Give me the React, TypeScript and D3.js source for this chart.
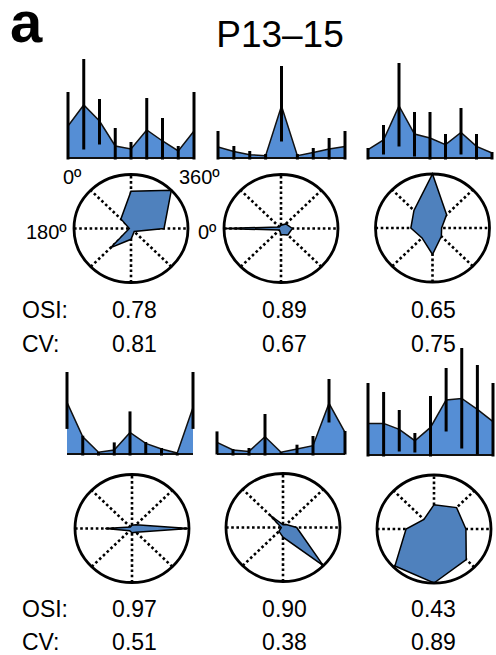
import React from "react";
import * as d3 from "d3";

const angles = [0, 45, 90, 135, 180, 225, 270, 315, 360];

// tuning curves: mean and error-bar top/bottom (response units)
const mean1 = [32, 53, 37, 12, 9, 28, 17, 7, 27];
const hi1 = [66, 99, 59, 30, 16, 60, 40, 12, 66];
const lo1 = [0, 10, 15, 0, 0, 0, 0, 0, 0];

const mean2 = [11, 6.6, 3.3, 2.3, 52, 2.3, 5.6, 9, 11.6];
const hi2 = [27, 12, 7, 4, 92, 4, 10, 20, 27];
const lo2 = [0, 0, 0, 0, 18, 0, 0, 0, 0];

const mean3 = [8.3, 18, 52, 24, 20, 13.3, 25.6, 11.6, 5];
const hi3 = [10, 33, 95, 46, 46, 24, 50, 24, 6];
const lo3 = [0, 5, 13, 3, 0, 0, 5, 0, 0];

const mean4 = [51.6, 17.3, 1.7, 4, 21.6, 10.6, 5, 1, 46.6];
const hi4 = [82, 18.3, 2, 11.6, 42.6, 12, 6, 1, 82];
const lo4 = [26.6, 0, 0, 0, 0, 1, 0, 0, 26.6];

const mean5 = [11.6, 4, 2.6, 17.3, 1.7, 5, 8.3, 50.6, 21.6];
const hi5 = [22.6, 5, 6, 40, 1.7, 9.3, 18, 75, 23];
const lo5 = [1, 0, 0, 0, 1.7, 1, 0, 33, 1];

const mean6 = [31.6, 31.6, 25.6, 14.3, 27.6, 55, 56.6, 45.6, 33.3];
const hi6 = [72, 63, 45, 22, 59, 87, 107, 90, 72];
const lo6 = [0, 0, 5, 4, 0, 25, 8, 2, 0];

// polar plots: normalized response at 0..315 deg
const polar1 = [0.58, 1.0, 0.69, 0.25, 0.03, 0.5, 0.2, 0.08];
const polar2 = [0.2, 0.12, 0.06, 0.04, 1.0, 0.04, 0.11, 0.17];
const polar3 = [0.16, 0.35, 1.0, 0.46, 0.38, 0.26, 0.49, 0.22];
const polar4 = [1.0, 0.1, 0.06, 0.04, 0.47, 0.06, 0.08, 0.1];
const polar5 = [0.24, 0.08, 0.05, 0.34, 0.03, 0.1, 0.18, 1.0];
const polar6 = [0.56, 0.56, 0.45, 0.25, 0.49, 0.97, 1.0, 0.8];

const osiLabels = ["0.78", "0.89", "0.65", "0.97", "0.90", "0.43"];
const cvLabels = ["0.81", "0.67", "0.75", "0.51", "0.38", "0.89"];

const series = [
  { mean: mean1, hi: hi1, lo: lo1, polar: polar1 },
  { mean: mean2, hi: hi2, lo: lo2, polar: polar2 },
  { mean: mean3, hi: hi3, lo: lo3, polar: polar3 },
  { mean: mean4, hi: hi4, lo: lo4, polar: polar4 },
  { mean: mean5, hi: hi5, lo: lo5, polar: polar5 },
  { mean: mean6, hi: hi6, lo: lo6, polar: polar6 },
];

// layout
const tuningX = [
  [68, 194],
  [218, 345],
  [368, 492],
  [67, 193],
  [217, 345],
  [368, 493],
];
const baselines = [158, 158, 158, 454, 454, 455];
const polarCenters = [
  [131, 228.5],
  [281, 228.5],
  [432.5, 228],
  [132, 528.5],
  [283, 527.5],
  [434, 529],
];
const RX = 57;
const RY = 54;
const FONT = "Liberation Sans, Arial, sans-serif";
const AREA_FILL = "#558ED5";
const POLAR_FILL = "#4F81BD";

function Tuning({ idx }: { idx: number }) {
  const s = series[idx];
  const [x0, x1] = tuningX[idx];
  const base = baselines[idx];
  const x = d3.scaleLinear().domain([0, 360]).range([x0, x1]);
  const y = d3.scaleLinear().domain([0, 100]).range([base, base - 100]);
  const pts = angles.map((a, i) => ({ a, m: s.mean[i], h: s.hi[i], l: s.lo[i] }));
  const area = d3
    .area<any>()
    .x((d) => x(d.a))
    .y0(y(0))
    .y1((d) => y(d.m))(pts) as string;
  const line = d3
    .line<any>()
    .x((d) => x(d.a))
    .y((d) => y(d.m))(pts) as string;
  return (
    <g>
      <path d={area} fill={AREA_FILL} stroke="none" />
      <path d={line} fill="none" stroke="#111" strokeWidth={1.5} />
      <line x1={x(0)} x2={x(360)} y1={y(0)} y2={y(0)} stroke="#111" strokeWidth={2} />
      {pts.map((d, i) => (
        <line
          key={i}
          x1={x(d.a)}
          x2={x(d.a)}
          y1={y(d.l) + 1.5}
          y2={y(d.h)}
          stroke="#000"
          strokeWidth={3}
        />
      ))}
    </g>
  );
}

function Polar({ idx }: { idx: number }) {
  const s = series[idx];
  const [cx, cy] = polarCenters[idx];
  const vals = s.polar;
  const r = d3.scaleLinear().domain([0, 1]).range([0, 1]);
  const pts = vals.map((v, i) => {
    const a = (angles[i] * Math.PI) / 180;
    return [cx + RX * r(v) * Math.cos(a), cy - RY * r(v) * Math.sin(a)] as [number, number];
  });
  const poly = d3.line().curve(d3.curveLinearClosed)(pts) as string;
  return (
    <g>
      {[0, 45, 90, 135].map((a) => {
        const t = (a * Math.PI) / 180;
        return (
          <line
            key={a}
            x1={cx - RX * Math.cos(t)}
            x2={cx + RX * Math.cos(t)}
            y1={cy + RY * Math.sin(t)}
            y2={cy - RY * Math.sin(t)}
            stroke="#000"
            strokeWidth={2.6}
            strokeDasharray="2.6 2.6"
          />
        );
      })}
      <path d={poly} fill={POLAR_FILL} stroke="#000" strokeWidth={1.5} strokeLinejoin="miter" />
      <ellipse cx={cx} cy={cy} rx={RX} ry={RY} fill="none" stroke="#000" strokeWidth={2.8} />
    </g>
  );
}

export default function App() {
  const valX = [134.5, 284.5, 433.5];
  return (
    <svg
      width={496}
      height={655}
      style={{ position: "absolute", left: 0, top: 0, background: "#fff" }}
      fontFamily={FONT}
    >
      <rect width={496} height={655} fill="#fff" />
      <text x={10} y={42} fontSize={58} fontWeight="bold" fill="#000">
        a
      </text>
      <text x={280} y={47} fontSize={37} textAnchor="middle" fill="#000">
        P13–15
      </text>
      {series.map((_, i) => (
        <Tuning key={"t" + i} idx={i} />
      ))}
      {series.map((_, i) => (
        <Polar key={"p" + i} idx={i} />
      ))}
      <text x={63} y={184} fontSize={20} fill="#000">0º</text>
      <text x={179} y={184} fontSize={20} fill="#000">360º</text>
      <text x={26} y={239} fontSize={20} fill="#000">180º</text>
      <text x={198} y={239} fontSize={20} fill="#000">0º</text>
      <text x={22} y={318} fontSize={23} fill="#000">OSI:</text>
      <text x={22} y={352} fontSize={23} fill="#000">CV:</text>
      <text x={22} y={617} fontSize={23} fill="#000">OSI:</text>
      <text x={22} y={650} fontSize={23} fill="#000">CV:</text>
      {osiLabels.map((t, i) => (
        <text
          key={"o" + i}
          x={valX[i % 3]}
          y={i < 3 ? 318 : 617}
          fontSize={23}
          textAnchor="middle"
          fill="#000"
        >
          {t}
        </text>
      ))}
      {cvLabels.map((t, i) => (
        <text
          key={"c" + i}
          x={valX[i % 3]}
          y={i < 3 ? 352 : 650}
          fontSize={23}
          textAnchor="middle"
          fill="#000"
        >
          {t}
        </text>
      ))}
    </svg>
  );
}
